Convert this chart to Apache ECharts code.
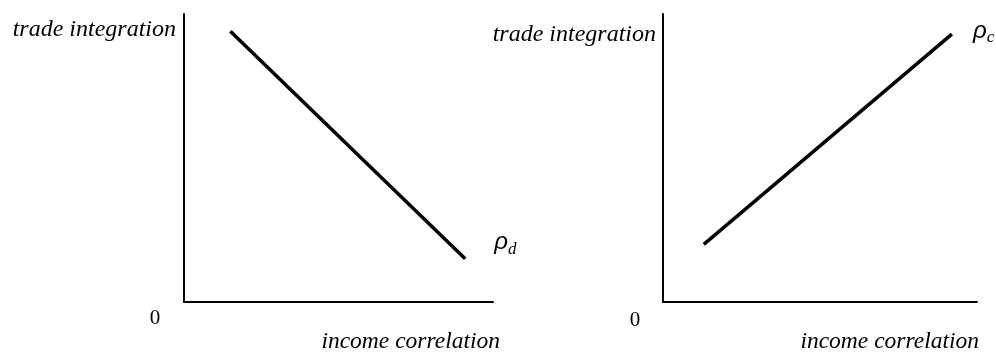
<!DOCTYPE html>
<html>
<head>
<meta charset="utf-8">
<script src="https://cdn.jsdelivr.net/npm/echarts@6/dist/echarts.min.js"></script>
<style>html,body{margin:0;padding:0;background:#fff;}#c{width:996px;height:352px;}</style>
</head>
<body>
<div id="c"></div>
<script>
// Data (normalized 0-100 on both axes)
const divergenceLine = [[15, 94], [91, 15]];   // rho_d
const convergenceLine = [[13, 20], [92, 93]];  // rho_c
const yAxisTitle = 'trade integration';
const xAxisTitle = 'income correlation';
const originLabel = '0';
const seriesNames = ['d', 'c'];

const chart = echarts.init(document.getElementById('c'), null, {renderer: 'canvas'});
const serif = '"Liberation Serif", "DejaVu Serif", serif';
const axisCommon = {
  type: 'value', min: 0, max: 100,
  axisLine: {show: true, onZero: false, lineStyle: {color: '#000', width: 2}},
  axisTick: {show: false}, axisLabel: {show: false}, splitLine: {show: false}
};
function endLabel(name, offset) {
  return {
    show: true, distance: 0, offset: offset,
    formatter: '{r|ρ}{s|' + name + '}',
    rich: {
      r: {fontFamily: '"Liberation Sans", Arial, sans-serif', fontStyle: 'italic', fontSize: 24, color: '#000', verticalAlign: 'bottom'},
      s: {fontFamily: serif, fontStyle: 'italic', fontSize: 17, color: '#000', verticalAlign: 'bottom', padding: [0, 0, -3, 0]}
    }
  };
}
const yTextStyle = {fontFamily: serif, fontStyle: 'italic', fontSize: 24, fill: '#000'};
const xTextStyle = {fontFamily: serif, fontStyle: 'italic', fontSize: 23.5, fill: '#000'};
chart.setOption({
  animation: false,
  backgroundColor: '#fff',
  grid: [
    {left: 184, top: 14, width: 309, height: 288},
    {left: 663, top: 14, width: 314, height: 288}
  ],
  xAxis: [Object.assign({gridIndex: 0}, axisCommon), Object.assign({gridIndex: 1}, axisCommon)],
  yAxis: [Object.assign({gridIndex: 0}, axisCommon), Object.assign({gridIndex: 1}, axisCommon)],
  series: [
    {type: 'line', xAxisIndex: 0, yAxisIndex: 0, data: divergenceLine,
     showSymbol: false, symbol: 'none', lineStyle: {color: '#000', width: 3.5},
     endLabel: endLabel(seriesNames[0], [29, -16])},
    {type: 'line', xAxisIndex: 1, yAxisIndex: 1, data: convergenceLine,
     showSymbol: false, symbol: 'none', lineStyle: {color: '#000', width: 3.5},
     endLabel: endLabel(seriesNames[1], [21, -3])}
  ],
  graphic: [
    {type: 'text', x: 176, y: 30, style: Object.assign({text: yAxisTitle, align: 'right', verticalAlign: 'middle'}, yTextStyle)},
    {type: 'text', x: 656, y: 35, style: Object.assign({text: yAxisTitle, align: 'right', verticalAlign: 'middle'}, yTextStyle)},
    {type: 'text', x: 500, y: 342, style: Object.assign({text: xAxisTitle, align: 'right', verticalAlign: 'middle'}, xTextStyle)},
    {type: 'text', x: 979, y: 342, style: Object.assign({text: xAxisTitle, align: 'right', verticalAlign: 'middle'}, xTextStyle)},
    {type: 'text', x: 155, y: 318, style: {text: originLabel, align: 'center', verticalAlign: 'middle', fontFamily: serif, fontSize: 21, fill: '#000'}},
    {type: 'text', x: 635, y: 320, style: {text: originLabel, align: 'center', verticalAlign: 'middle', fontFamily: serif, fontSize: 21, fill: '#000'}}
  ]
});
</script>
</body>
</html>
